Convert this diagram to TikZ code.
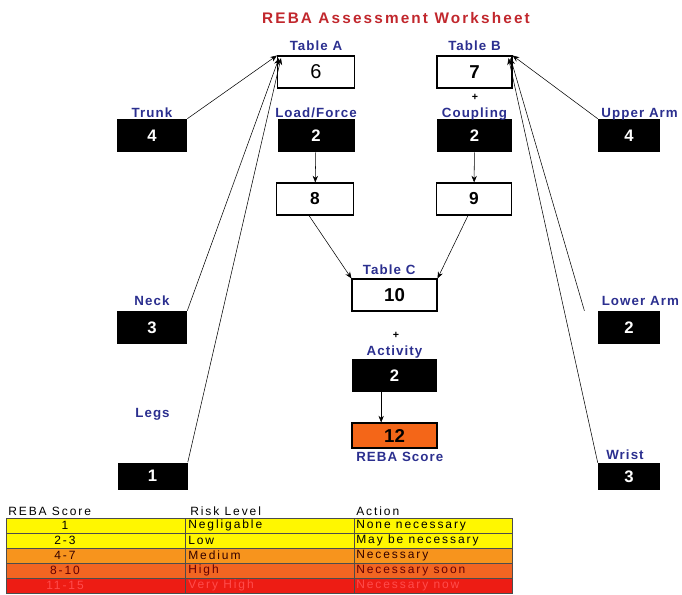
\documentclass[tikz,border=0pt]{standalone}
\usepackage{fontspec}
\setmainfont{Liberation Sans}
\newfontfamily\widefont[LetterSpace=8]{Liberation Sans}
\newfontfamily\titlefont[LetterSpace=14]{Liberation Sans}
\newfontfamily\tablefont[LetterSpace=16]{Liberation Sans}
\usetikzlibrary{arrows.meta, positioning}
\definecolor{labelblue}{RGB}{43,47,143}
\definecolor{titlered}{RGB}{193,39,45}
\definecolor{rebaorange}{RGB}{244,102,24}
\definecolor{lowyellow}{RGB}{255,247,0}
\definecolor{medorange}{RGB}{247,148,29}
\definecolor{highorange}{RGB}{242,101,34}
\definecolor{vhighred}{RGB}{237,28,20}
\tikzstyle{score} = [rectangle, fill=black, text=white, inner sep=0pt, font=\fontsize{12.5}{14}\selectfont\bfseries]
\tikzstyle{result} = [rectangle, draw=black, thick, fill=white, inner sep=0pt, font=\fontsize{14}{16}\selectfont\bfseries]
\tikzstyle{lbl} = [text=labelblue, inner sep=0pt, text height=7.2pt, text depth=0pt, font=\widefont\fontsize{10}{12}\selectfont\bfseries]
\tikzstyle{arrow} = [-{Stealth[length=5pt,width=4pt]}, thin]
\tikzstyle{cell} = [anchor=west, inner sep=0pt, font=\tablefont\fontsize{9}{10}\selectfont]

\begin{document}
\begin{tikzpicture}[x=0.75pt, y=-0.75pt]
\useasboundingbox (0,0) rectangle (682,594);

\node (title) at (396,18) [text=titlered, font=\titlefont\fontsize{11.5}{13}\selectfont\bfseries] {REBA Assessment Worksheet};

% table A column
\node (tableA) at (316,72) [result, minimum width=57.75pt, minimum height=24pt, font=\fontsize{15}{17}\selectfont] {6};
\node (load) at (316,135.5) [score, minimum width=57.75pt, minimum height=24.75pt] {2};
\node (sumA) at (315,199) [result, minimum width=57.75pt, minimum height=24pt, font=\fontsize{13}{15}\selectfont\bfseries] {8};

% table B column
\node (tableB) at (474.5,72) [result, minimum width=56.25pt, minimum height=24pt] {7};
\node (coupling) at (474.5,135.5) [score, minimum width=56.25pt, minimum height=24.75pt] {2};
\node (sumB) at (474,199) [result, minimum width=56.25pt, minimum height=24pt, font=\fontsize{13}{15}\selectfont\bfseries] {9};
\node (plusB) at (475,97) [inner sep=0pt, font=\fontsize{8}{9}\selectfont\bfseries] {+};

% body parts
\node (trunk) at (152,135.5) [score, minimum width=52.5pt, minimum height=24.75pt] {4};
\node (neck) at (152,327.5) [score, minimum width=52.5pt, minimum height=24.75pt] {3};
\node (legs) at (152.5,476) [score, minimum width=52.5pt, minimum height=20.25pt] {1};
\node (upperarm) at (629,135.5) [score, minimum width=46.5pt, minimum height=24.75pt] {4};
\node (lowerarm) at (629,327.5) [score, minimum width=46.5pt, minimum height=24.75pt] {2};
\node (wrist) at (629,476.5) [score, minimum width=46.5pt, minimum height=20.25pt] {3};

% table C and final score
\node (tableC) at (394.5,295) [result, minimum width=63.75pt, minimum height=24pt] {10};
\node (plusC) at (396,335) [inner sep=0pt, font=\fontsize{8}{9}\selectfont\bfseries] {+};
\node (activity) at (394.5,375.5) [score, minimum width=63.75pt, minimum height=24.75pt] {2};
\node (reba) at (394.5,435.5) [result, fill=rebaorange, minimum width=63.75pt, minimum height=18.75pt] {12};

% labels
\node (lblTableA) [lbl, above=3.5pt of tableA] {Table A};
\node (lblTableB) [lbl, above=3.5pt of tableB] {Table B};
\node (lblLoad) [lbl, above=1pt of load] {Load/Force};
\node (lblCoupling) [lbl, above=1pt of coupling] {Coupling};
\node (lblTrunk) [lbl, above=1pt of trunk] {Trunk};
\node (lblNeck) [lbl, above=3.5pt of neck] {Neck};
\node (lblLegs) at (152.5,413) [lbl] {Legs};
\node (lblUpper) [lbl, above=1pt of upperarm, xshift=8pt] {Upper Arm};
\node (lblLower) [lbl, above=3.5pt of lowerarm, xshift=8.5pt] {Lower Arm};
\node (lblWrist) [lbl, above=2pt of wrist, xshift=-3pt] {Wrist};
\node (lblTableC) [lbl, above=2.5pt of tableC, xshift=-4pt] {Table C};
\node (lblActivity) [lbl, above=2pt of activity] {Activity};
\node (lblReba) [lbl, below=2.5pt of reba, xshift=4pt] {REBA Score};

% connectors
\draw [arrow] (trunk.north east) -- (tableA.north west);
\draw [arrow] (neck.north east) -- ([xshift=1.5pt,yshift=-2pt]tableA.north west);
\draw [arrow] (legs.north east) -- ([xshift=3pt,yshift=-2pt]tableA.north west);
\draw [arrow] (upperarm.north west) -- (tableB.north east);
\draw [arrow] ([xshift=-10pt]lowerarm.north west) -- ([xshift=-1.5pt,yshift=-2pt]tableB.north east);
\draw [arrow] (wrist.north west) -- ([xshift=-3pt,yshift=-2pt]tableB.north east);
\draw [arrow] (load) -- (sumA);
\draw [arrow] (coupling) -- (sumB);
\draw [arrow] ([xshift=-4.5pt]sumA.south) -- (tableC.north west);
\draw [arrow] ([xshift=-4.5pt]sumB.south) -- (tableC.north east);
\draw [arrow] ([xshift=-10pt]activity.south) -- ([xshift=-10pt]reba.north);

% risk table
\node (hdScore) at (8,511) [cell] {REBA Score};
\node (hdRisk) at (190,511) [cell] {Risk Level};
\node (hdAction) at (356,511) [cell] {Action};
\foreach \score/\risk/\act/\bg/\fg [count=\i] in {1/Negligable/None necessary/lowyellow/black,
  2-3/Low/May be necessary/lowyellow/black,
  4-7/Medium/Necessary/medorange/black!80!red,
  8-10/High/Necessary soon/highorange/black!60!red,
  11-15/Very High/Necessary now/vhighred/red!70!white}
{
  \fill [\bg] (6,503+15*\i) rectangle (512,518+15*\i);
  \draw [black!70, thin] (6,503+15*\i) rectangle (185,518+15*\i)
    (185,503+15*\i) rectangle (354,518+15*\i)
    (354,503+15*\i) rectangle (512,518+15*\i);
  \node (score\i) at (65,510.5+15*\i) [cell, anchor=center, text=\fg] {\score};
  \node (risk\i) at (188,510.5+15*\i) [cell, text=\fg] {\risk};
  \node (act\i) at (356,510.5+15*\i) [cell, text=\fg] {\act};
}

\end{tikzpicture}
\end{document}
